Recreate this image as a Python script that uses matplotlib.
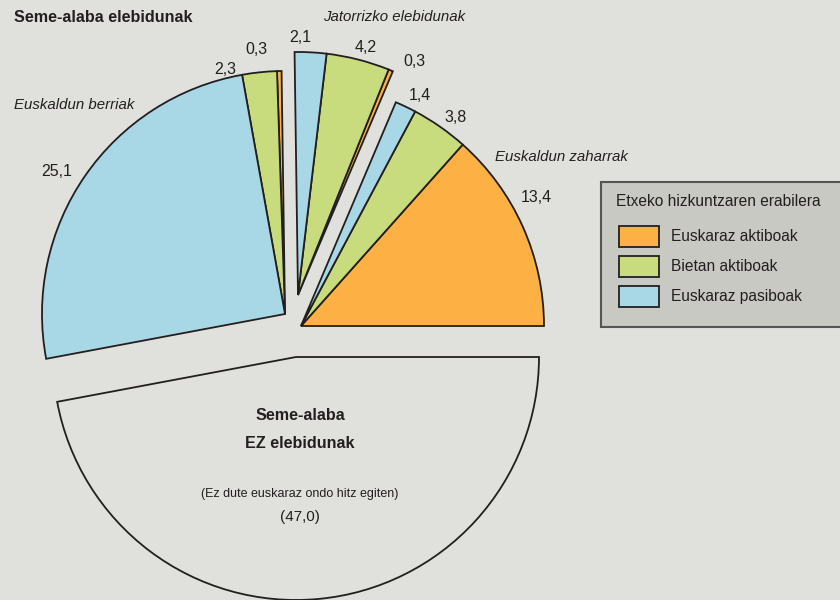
import matplotlib
matplotlib.use("Agg")
import matplotlib.pyplot as plt
from matplotlib.patches import Rectangle

plt.rcParams['font.family'] = ['Liberation Sans Narrow', 'Liberation Sans', 'DejaVu Sans']

# data
groups = ["Euskaldun zaharrak", "Jatorrizko elebidunak", "Euskaldun berriak"]
aktiboak = [13.4, 0.3, 0.3]      # Euskaraz aktiboak
bietan = [3.8, 4.2, 2.3]         # Bietan aktiboak
pasiboak = [1.4, 2.1, 25.1]      # Euskaraz pasiboak
ez_elebidunak = 47.0
series_names = ["Euskaraz aktiboak", "Bietan aktiboak", "Euskaraz pasiboak"]
legend_title = "Etxeko hizkuntzaren erabilera"

colors = ["#fdb145", "#c8dc7e", "#a8d8e6"]
bg = "#e0e0dc"
edge = "#231f20"

total = sum(aktiboak) + sum(bietan) + sum(pasiboak) + ez_elebidunak

# exploded centres of each group (pixel coords, y down)
centers = [(301, 326), (298, 295), (285, 314)]
white_center = (296, 357)
R = 243

fig = plt.figure(figsize=(8.4, 6), dpi=100)
fig.patch.set_facecolor(bg)
ax = fig.add_axes([0, 0, 1, 1])
ax.set_facecolor(bg)

wp = dict(edgecolor=edge, linewidth=1.3)
start = 0.0
handles = None
for i in range(3):
    vals = [aktiboak[i], bietan[i], pasiboak[i]]
    fr = [v / total for v in vals]
    cx, cy = centers[i]
    w, _ = ax.pie(fr, colors=colors, startangle=start, center=(cx, 600 - cy),
                  radius=R, normalize=False, wedgeprops=wp, frame=True)
    if handles is None:
        handles = w
    start += 360 * sum(vals) / total

ax.pie([ez_elebidunak / total], colors=[bg], startangle=start,
       center=(white_center[0], 600 - white_center[1]), radius=R,
       normalize=False, wedgeprops=wp, frame=True)

ax.set_xlim(0, 840)
ax.set_ylim(0, 600)
ax.set_aspect("equal")
ax.axis("off")

def T(x, y, s, **kw):
    ax.text(x, 600 - y, s, color="#231f20", **kw)

T(14, 17, "Seme-alaba elebidunak", fontsize=11.6, fontweight="bold", ha="left", va="center")
T(323, 17, "Jatorrizko elebidunak", fontsize=10.8, style="italic", ha="left", va="center")
T(14, 105, "Euskaldun berriak", fontsize=10.8, style="italic", ha="left", va="center")
T(495, 157, "Euskaldun zaharrak", fontsize=10.8, style="italic", ha="left", va="center")

lbl = lambda v: f"{v:.1f}".replace(".", ",")
num_pos = {
    (0, 0): (536, 198), (0, 1): (456, 117), (0, 2): (420, 95),
    (1, 0): (414, 62), (1, 1): (366, 47), (1, 2): (300, 38),
    (2, 0): (256, 50), (2, 1): (225, 70), (2, 2): (57, 171),
}
for i in range(3):
    for j, v in enumerate([aktiboak[i], bietan[i], pasiboak[i]]):
        x, y = num_pos[(i, j)]
        T(x, y, lbl(v), fontsize=11.5, ha="center", va="center")

T(300, 415, "Seme-alaba", fontsize=11.6, fontweight="bold", ha="center", va="center")
T(300, 443, "EZ elebidunak", fontsize=11.6, fontweight="bold", ha="center", va="center")
T(300, 494, "(Ez dute euskaraz ondo hitz egiten)", fontsize=9, ha="center", va="center")
T(300, 517, f"({lbl(ez_elebidunak)})", fontsize=11, ha="center", va="center")

# legend box
ax.add_patch(Rectangle((601, 600 - 327), 260, 145, facecolor="#c9c9c3",
                       edgecolor="#555555", linewidth=1.5, zorder=3, clip_on=False))
ax.text(616, 600 - 202, legend_title, fontsize=11.2, color="#231f20",
        ha="left", va="center", zorder=4)
leg = ax.legend(handles, series_names,
                loc="upper left", bbox_to_anchor=(614 / 840, 1 - 221 / 600),
                frameon=False, fontsize=11.2,
                handlelength=2.6, handleheight=1.7, labelspacing=0.58,
                handletextpad=0.75, borderaxespad=0, borderpad=0.3)
leg.set_zorder(4)
for t in leg.get_texts():
    t.set_color("#231f20")

fig.savefig("out.png", dpi=100, facecolor=bg)
